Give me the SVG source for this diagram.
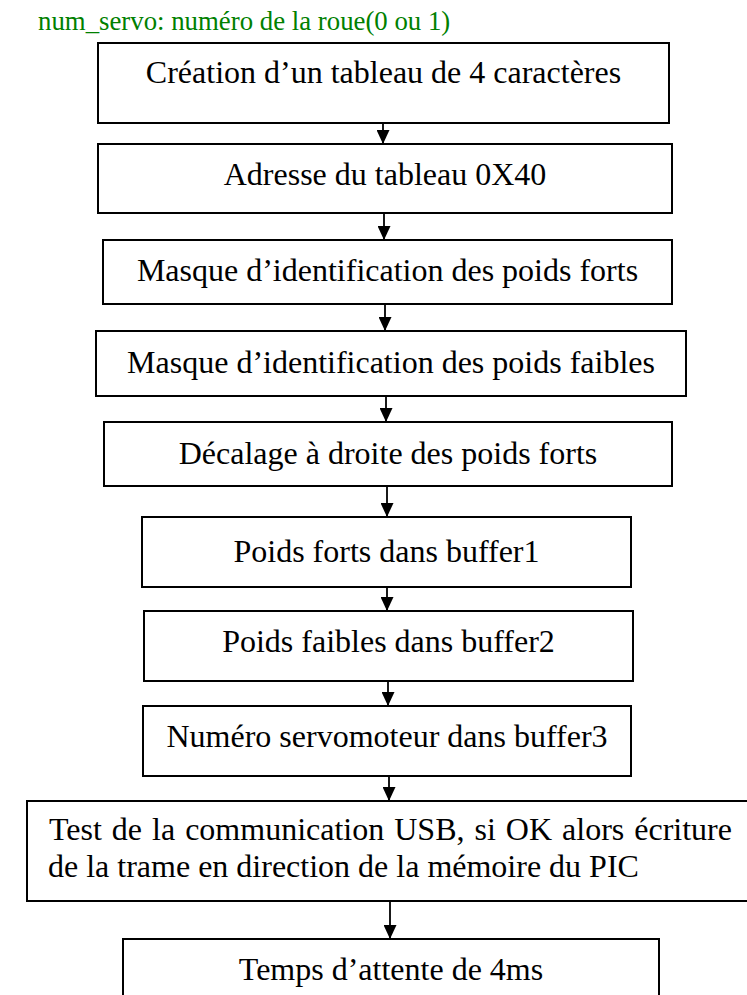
<svg xmlns="http://www.w3.org/2000/svg" width="747" height="995" viewBox="0 0 747 995">
  <style>
    .box { fill: #ffffff; stroke: #000000; stroke-width: 2; }
    .lbl { font-family: "Liberation Serif", "Times New Roman", serif; font-size: 32px; fill: #000000; }
    .mid { text-anchor: middle; }
    .note { font-family: "Liberation Serif", "Times New Roman", serif; font-size: 26.8px; fill: #008000; }
    .flow { stroke: #000000; stroke-width: 1.8; fill: none; marker-end: url(#arrow); }
  </style>
  <defs>
    <marker id="arrow" viewBox="0 0 14 13" refX="14" refY="6.5" markerWidth="14" markerHeight="13" markerUnits="userSpaceOnUse" orient="auto">
      <path d="M0,0 L14,6.5 L0,13 Z" fill="#000000"/>
    </marker>
  </defs>

  <rect x="0" y="0" width="747" height="995" fill="#ffffff"/>

  <text class="note" x="38" y="30">num_servo: numéro de la roue(0 ou 1)</text>

  <g id="connectors">
    <line class="flow" x1="383" y1="120" x2="383" y2="144"/>
    <line class="flow" x1="384" y1="213" x2="384" y2="240"/>
    <line class="flow" x1="385" y1="304" x2="385" y2="331"/>
    <line class="flow" x1="386" y1="396" x2="386" y2="422"/>
    <line class="flow" x1="387" y1="486" x2="387" y2="517"/>
    <line class="flow" x1="387" y1="587" x2="387" y2="611"/>
    <line class="flow" x1="388" y1="681" x2="388" y2="706"/>
    <line class="flow" x1="389" y1="776" x2="389" y2="801"/>
    <line class="flow" x1="390" y1="901" x2="390" y2="939"/>
  </g>

  <g id="n1">
    <rect class="box" x="98" y="43" width="571" height="80"/>
    <text class="lbl mid" x="383.5" y="83">Création d’un tableau de 4 caractères</text>
  </g>
  <g id="n2">
    <rect class="box" x="98" y="144" width="574" height="69"/>
    <text class="lbl mid" x="385" y="185">Adresse du tableau 0X40</text>
  </g>
  <g id="n3">
    <rect class="box" x="103" y="240" width="569" height="64"/>
    <text class="lbl mid" x="387.5" y="281">Masque d’identification des poids forts</text>
  </g>
  <g id="n4">
    <rect class="box" x="96" y="331" width="590" height="65"/>
    <text class="lbl mid" x="391" y="373">Masque d’identification des poids faibles</text>
  </g>
  <g id="n5">
    <rect class="box" x="104" y="422" width="568" height="64"/>
    <text class="lbl mid" x="388" y="464">Décalage à droite des poids forts</text>
  </g>
  <g id="n6">
    <rect class="box" x="142" y="517" width="489" height="70"/>
    <text class="lbl mid" x="386.5" y="562">Poids forts dans buffer1</text>
  </g>
  <g id="n7">
    <rect class="box" x="144" y="611" width="489" height="70"/>
    <text class="lbl mid" x="388.5" y="652">Poids faibles dans buffer2</text>
  </g>
  <g id="n8">
    <rect class="box" x="143" y="706" width="488" height="70"/>
    <text class="lbl mid" x="387" y="747">Numéro servomoteur dans buffer3</text>
  </g>
  <g id="n9">
    <rect class="box" x="27" y="801" width="740" height="100"/>
    <text class="lbl" x="49" y="840" word-spacing="2">Test de la communication USB, si OK alors écriture</text>
    <text class="lbl" x="48" y="877">de la trame en direction de la mémoire du PIC</text>
  </g>
  <g id="n10">
    <rect class="box" x="123" y="939" width="536" height="70"/>
    <text class="lbl mid" x="391" y="980">Temps d’attente de 4ms</text>
  </g>
</svg>
